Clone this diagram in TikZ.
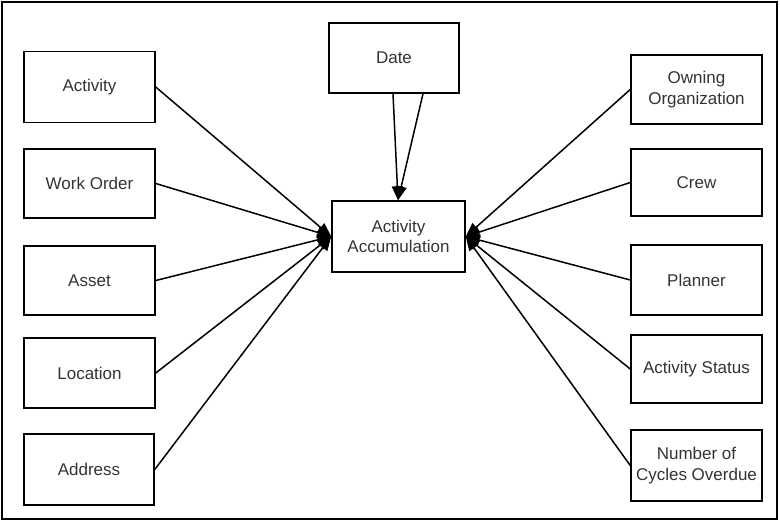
\documentclass[tikz,border=0pt]{standalone}
\usepackage{fontspec}
\setmainfont{Liberation Sans}
\usetikzlibrary{arrows.meta}
\begin{document}
\begin{tikzpicture}[x=1pt,y=-1pt,
  box/.style={draw, line width=1.5pt, align=center, inner sep=0pt,
    font=\fontsize{17}{20.5}\selectfont, text=black!80},
  link/.style={line width=1.5pt, -{Triangle[length=14pt,width=11pt]}}]
\useasboundingbox (0,0) rectangle (780,522);
\draw[line width=1.3pt] (2,2) rectangle (777,519);
% left column
\node[box, minimum width=131pt, minimum height=71pt] (act) at (89.5,87) {Activity};
\node[box, minimum width=131pt, minimum height=69pt] (wo) at (89.5,183.5) {Work Order};
\node[box, minimum width=131pt, minimum height=69pt] (asset) at (89.5,280.5) {Asset};
\node[box, minimum width=131pt, minimum height=70pt] (loc) at (89.5,373) {Location};
\node[box, minimum width=130pt, minimum height=71pt] (addr) at (89,469.5) {Address};
% centre
\node[box, minimum width=130pt, minimum height=70pt] (date) at (394,58) {Date};
\node[box, minimum width=133pt, minimum height=71pt] (aa) at (398.5,236.5) {Activity\\Accumulation};
% right column
\node[box, minimum width=131pt, minimum height=69pt] (oo) at (696.5,89.5) {Owning\\Organization};
\node[box, minimum width=131pt, minimum height=67pt] (crew) at (696.5,182.5) {Crew};
\node[box, minimum width=131pt, minimum height=70pt] (plan) at (696.5,280) {Planner};
\node[box, minimum width=131pt, minimum height=68pt] (stat) at (696.5,369) {Activity Status};
\node[box, minimum width=131pt, minimum height=71pt] (num) at (696.5,465.5) {Number of\\Cycles Overdue};
% connectors
\foreach \n in {act,wo,asset,loc,addr} \draw[link] (\n.east) -- (aa.west);
\foreach \n in {oo,crew,plan,stat,num} \draw[link] (\n.west) -- (aa.east);
\draw[link] ([xshift=-1pt]date.south) -- ([xshift=-0.5pt]aa.north);
\draw[link] ([xshift=29pt]date.south) -- ([xshift=-0.5pt]aa.north);
\end{tikzpicture}
\end{document}
